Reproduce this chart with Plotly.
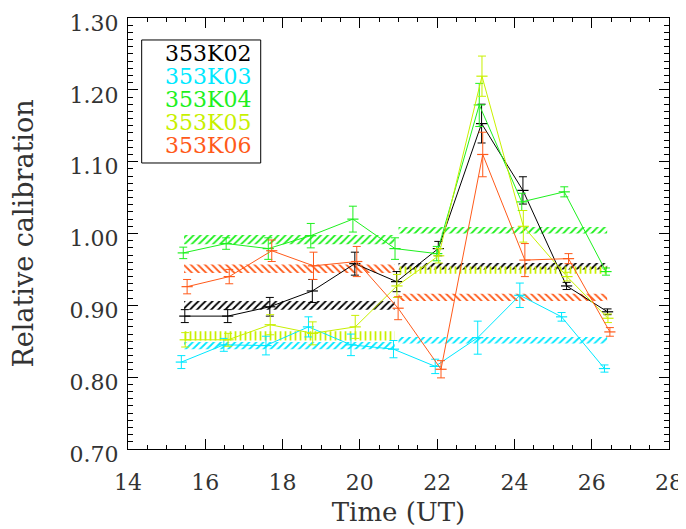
import plotly.graph_objects as go

# ---------------- data ----------------
names = ["353K02", "353K03", "353K04", "353K05", "353K06"]
colors = ["#000000", "#00E8FF", "#1EF01E", "#C8F000", "#FF5A1A"]

t_353K02 = [15.47, 16.58, 17.67, 18.77, 19.87, 20.95, 22.03, 23.15, 24.22, 25.35, 26.41]
t_353K03 = [15.38, 16.48, 17.57, 18.67, 19.77, 20.87, 21.95, 23.05, 24.14, 25.22, 26.33]
t_353K04 = [15.43, 16.54, 17.63, 18.73, 19.82, 20.91, 21.99, 23.09, 24.19, 25.29, 26.37]
t_353K05 = [15.48, 16.59, 17.68, 18.78, 19.88, 20.96, 22.04, 23.16, 24.23, 25.36, 26.42]
t_353K06 = [15.53, 16.62, 17.72, 18.80, 19.92, 20.99, 22.10, 23.18, 24.27, 25.40, 26.47]

v_353K02 = [0.885, 0.885, 0.898, 0.920, 0.958, 0.933, 0.979, 1.153, 1.060, 0.927, 0.891]
v_353K03 = [0.821, 0.845, 0.844, 0.870, 0.845, 0.839, 0.815, 0.855, 0.914, 0.884, 0.812]
v_353K04 = [0.973, 0.986, 0.979, 0.997, 1.020, 0.979, 0.972, 1.179, 1.044, 1.058, 0.947]
v_353K05 = [0.852, 0.852, 0.873, 0.861, 0.870, 0.927, 0.969, 1.219, 1.010, 0.940, 0.882]
v_353K06 = [0.926, 0.940, 0.976, 0.955, 0.961, 0.896, 0.811, 1.110, 0.963, 0.965, 0.863]

e_353K02 = [0.009, 0.009, 0.013, 0.016, 0.016, 0.014, 0.010, 0.027, 0.019, 0.005, 0.004]
e_353K03 = [0.009, 0.009, 0.013, 0.014, 0.015, 0.012, 0.010, 0.023, 0.017, 0.006, 0.005]
e_353K04 = [0.008, 0.008, 0.015, 0.017, 0.018, 0.015, 0.010, 0.030, 0.012, 0.007, 0.005]
e_353K05 = [0.010, 0.009, 0.014, 0.016, 0.016, 0.016, 0.010, 0.028, 0.022, 0.006, 0.006]
e_353K06 = [0.010, 0.010, 0.015, 0.019, 0.021, 0.016, 0.012, 0.031, 0.023, 0.007, 0.006]

# mean +/- error bands for the two halves of the night
band_t1 = [15.45, 20.90]
band_t2 = [21.00, 26.40]
band1_lo = [0.894, 0.839, 0.985, 0.851, 0.945]
band1_hi = [0.906, 0.849, 0.998, 0.864, 0.957]
band2_lo = [0.950, 0.847, 1.000, 0.944, 0.906]
band2_hi = [0.959, 0.856, 1.009, 0.954, 0.916]
band_patterns = ["/", "/", "/", "|", "\\"]

x_ticks = [14, 16, 18, 20, 22, 24, 26, 28]
y_ticks = [0.70, 0.80, 0.90, 1.00, 1.10, 1.20, 1.30]

times = [t_353K02, t_353K03, t_353K04, t_353K05, t_353K06]
values = [v_353K02, v_353K03, v_353K04, v_353K05, v_353K06]
errors = [e_353K02, e_353K03, e_353K04, e_353K05, e_353K06]

FONT = "DejaVu Serif"
TXT = "#333333"
fig = go.Figure()

# hatched bands
for i in range(len(names)):
    for (ta, tb), lo, hi in ((band_t1, band1_lo[i], band1_hi[i]), (band_t2, band2_lo[i], band2_hi[i])):
        fig.add_trace(go.Scatter(
            x=[ta, tb, tb, ta, ta], y=[lo, lo, hi, hi, lo],
            mode="lines", fill="toself", line=dict(width=0, color="rgba(0,0,0,0)"),
            fillcolor="rgba(0,0,0,0)",
            fillpattern=dict(shape=band_patterns[i], fgcolor=colors[i], bgcolor="rgba(0,0,0,0)",
                             size=5, solidity=0.35, fgopacity=1),
            hoverinfo="skip", showlegend=False))

# series with error bars
for i in range(len(names)):
    fig.add_trace(go.Scatter(
        x=times[i], y=values[i], mode="lines+markers", name=names[i],
        line=dict(color=colors[i], width=1),
        marker=dict(symbol="line-ew", size=8, line=dict(color=colors[i], width=1.2), color=colors[i]),
        error_y=dict(type="data", array=errors[i], color=colors[i], thickness=1, width=4),
        showlegend=False))

# legend as coloured text in a box
for i, n in enumerate(names):
    fig.add_annotation(xref="paper", yref="paper", x=0.0647, y=0.9165 - i * 0.0528,
                       text=n, showarrow=False, xanchor="left", yanchor="middle",
                       font=dict(family=FONT, size=22, color=colors[i]))
fig.add_shape(type="rect", xref="paper", yref="paper", x0=0.0253, x1=0.2453, y0=0.6636, y1=0.949,
              line=dict(color="black", width=1), fillcolor="rgba(0,0,0,0)")

axis_common = dict(showline=True, linecolor="black", linewidth=1, mirror="ticks",
                   ticks="inside", tickcolor="black", showgrid=False, zeroline=False,
                   automargin=False, ticklabeloverflow="allow",
                   tickfont=dict(family=FONT, size=22, color=TXT))

fig.update_xaxes(range=[14, 28], tickvals=x_ticks, ticktext=[str(v) for v in x_ticks],
                 ticklen=10, tickwidth=1,
                 minor=dict(dtick=0.5, ticklen=4, ticks="inside", tickcolor="black", showgrid=False),
                 title=dict(text="Time (UT)", font=dict(family=FONT, size=26, color=TXT), standoff=8),
                 ticklabelstandoff=14,
                 **axis_common)
fig.update_yaxes(range=[0.70, 1.30], tickvals=y_ticks, ticktext=["%.2f" % v for v in y_ticks],
                 ticklen=10, tickwidth=1,
                 minor=dict(dtick=0.01, ticklen=5, ticks="inside", tickcolor="black", showgrid=False),
                 title=dict(text="Relative calibration", font=dict(family=FONT, size=27, color=TXT), standoff=30),
                 ticklabelstandoff=4, ticklabelshift=5,
                 **axis_common)

# the page body adds an 8 px offset, so the figure is 8 px smaller than the window
fig.update_layout(width=678, height=521, margin=dict(l=120, r=17, t=10, b=80, autoexpand=False),
                  paper_bgcolor="white", plot_bgcolor="white", showlegend=False)

fig.write_html("out.html")
